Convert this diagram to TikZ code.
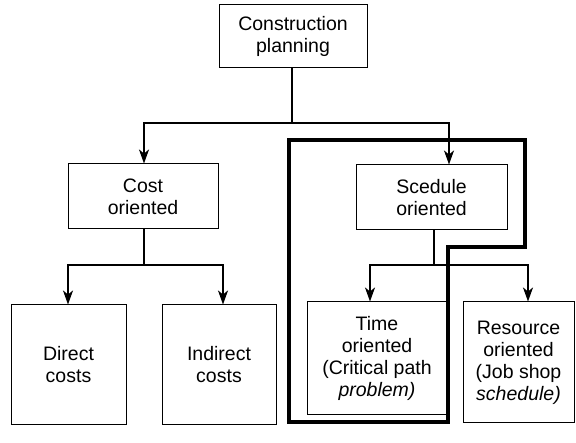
\documentclass[tikz,border=0pt]{standalone}
\usepackage{fontspec}
\setmainfont{Liberation Sans}
\usetikzlibrary{arrows.meta}
\begin{document}
\begin{tikzpicture}[x=1pt,y=-1pt,
  box/.style={draw=black, line width=1pt, align=center, inner sep=0pt,
    font=\fontsize{19.5}{22}\selectfont},
  link/.style={draw=black, line width=1.6pt},
  arr/.style={link, -{Stealth[length=14pt,width=10pt,inset=4pt]}},
  frame/.style={draw=black, line width=3.6pt, line join=miter}]
\useasboundingbox (0,0) rectangle (576,443);

% boxes
\node[box, minimum width=148, minimum height=63] (top) at (293,36.5) {Construction\\planning};
\node[box, minimum width=150, minimum height=65] (cost) at (143,196.5) {Cost\\oriented};
\node[box, minimum width=151, minimum height=65] (sched) at (431.5,197.5) {Scedule\\oriented};
\node[box, minimum width=115, minimum height=120] (direct) at (68.5,365) {Direct\\costs};
\node[box, minimum width=114, minimum height=120] (indirect) at (219,365) {Indirect\\costs};
\node[box, minimum width=140, minimum height=113] (time) at (377,358.5) {Time\\oriented\\(Critical path\\\textit{problem)}};
\node[box, minimum width=111, minimum height=121] (res) at (518.5,362.5) {Resource\\oriented\\(Job shop\\\textit{schedule)}};

% junctions
\coordinate (j1) at (292,123);
\coordinate (j2) at (144,265);
\coordinate (j3) at (434,265);

% connectors
\draw[link] ([xshift=-1pt]top.south) -- (j1);
\draw[arr] (j1) -| ([xshift=1pt]cost.north);
\draw[arr] (j1) -| ([xshift=17.5pt]sched.north);
\draw[link] ([xshift=1pt]cost.south) -- (j2);
\draw[arr] (j2) -| ([xshift=-0.5pt]direct.north);
\draw[arr] (j2) -| ([xshift=4pt]indirect.north);
\draw[link] ([xshift=2.5pt]sched.south) -- (j3);
\draw[arr] (j3) -| ([xshift=-7pt]time.north);
\draw[arr] (j3) -| ([xshift=9.5pt]res.north);

% thick outline around the schedule branch
\draw[frame] (289,140) -- (525,140) -- (525,247) -- (448,247) -- (448,422) -- (289,422) -- cycle;
\end{tikzpicture}
\end{document}
